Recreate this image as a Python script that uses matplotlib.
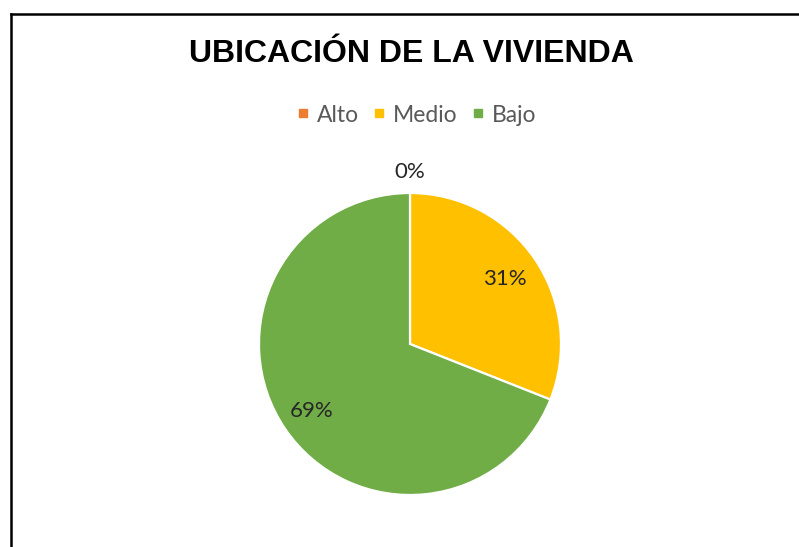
import matplotlib
matplotlib.use("Agg")
import matplotlib.pyplot as plt
import numpy as np
from matplotlib.lines import Line2D

title = "UBICACIÓN DE LA VIVIENDA"
categories = ["Alto", "Medio", "Bajo"]
values = [0, 31, 69]
colors = ["#ED7D31", "#FFC000", "#70AD47"]

W, H = 799, 547
fig = plt.figure(figsize=(W / 100, H / 100), dpi=100)
fig.patch.set_facecolor("white")

# border lines (left and top)
fig.add_artist(Line2D([11 / W, 11 / W], [0, 1 - 14 / H], color="black", lw=1.8, transform=fig.transFigure))
fig.add_artist(Line2D([11 / W, 1], [1 - 14 / H, 1 - 14 / H], color="black", lw=1.8, transform=fig.transFigure))

cx, cy, r = 410, 344, 151
ax = fig.add_axes([(cx - r) / W, (H - cy - r) / H, 2 * r / W, 2 * r / H])
ax.set_aspect("equal")

wedges, _ = ax.pie(values, colors=colors, startangle=90, counterclock=False, radius=1,
                   wedgeprops=dict(edgecolor="white", linewidth=1.6))
ax.set_xlim(-1, 1)
ax.set_ylim(-1, 1)
ax.axis("off")

total = sum(values)
label_dist = {0: 1.14, 1: 0.76, 2: 0.79}
for i, w in enumerate(wedges):
    ang = np.deg2rad((w.theta1 + w.theta2) / 2)
    d = label_dist[i]
    ax.text(d * np.cos(ang), d * np.sin(ang), f"{values[i] / total * 100:.0f}%",
            ha="center", va="center", fontsize=16, color="#262626", family="Lato")

fig.text(411 / W, 1 - 54 / H, title, ha="center", va="center", fontsize=23,
         fontweight="bold", family="Liberation Sans", color="black")

handles = [Line2D([], [], marker="s", linestyle="none", markersize=5.5, markerfacecolor=c,
                  markeredgecolor=c) for c in colors]
leg = fig.legend(handles, categories, loc="center", bbox_to_anchor=(415 / W, 1 - 115 / H),
                 ncol=3, frameon=False, handletextpad=0.2, columnspacing=0.5,
                 prop=dict(family="Lato", size=16.5), handlelength=0.8)
for t in leg.get_texts():
    t.set_color("#595959")

fig.savefig("out.png", dpi=100)
